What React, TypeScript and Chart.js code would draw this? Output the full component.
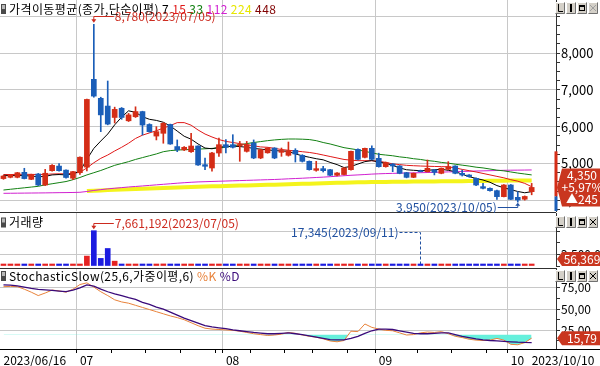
import React, { useEffect, useRef } from 'react';
import { Chart, registerables } from 'chart.js';

Chart.register(...registerables);

// ---------------- data ----------------
const DATES = [
  '2023/06/16', '2023/06/19', '2023/06/20', '2023/06/21', '2023/06/22', '2023/06/23', '2023/06/26', '2023/06/27', '2023/06/28', '2023/06/29', '2023/06/30',
  '2023/07/03', '2023/07/04', '2023/07/05', '2023/07/06', '2023/07/07', '2023/07/10', '2023/07/11', '2023/07/12', '2023/07/13', '2023/07/14',
  '2023/07/17', '2023/07/18', '2023/07/19', '2023/07/20', '2023/07/21', '2023/07/24', '2023/07/25', '2023/07/26', '2023/07/27', '2023/07/28', '2023/07/31',
  '2023/08/01', '2023/08/02', '2023/08/03', '2023/08/04', '2023/08/07', '2023/08/08', '2023/08/09', '2023/08/10', '2023/08/11', '2023/08/14',
  '2023/08/16', '2023/08/17', '2023/08/18', '2023/08/21', '2023/08/22', '2023/08/23', '2023/08/24', '2023/08/25', '2023/08/28', '2023/08/29', '2023/08/30', '2023/08/31',
  '2023/09/01', '2023/09/04', '2023/09/05', '2023/09/06', '2023/09/07', '2023/09/08', '2023/09/11', '2023/09/12', '2023/09/13', '2023/09/14', '2023/09/15',
  '2023/09/18', '2023/09/19', '2023/09/20', '2023/09/21', '2023/09/22', '2023/09/25', '2023/09/26', '2023/09/27',
  '2023/10/04', '2023/10/05', '2023/10/06', '2023/10/10',
];

const OPEN = [
  4590, 4625, 4625, 4760, 4570, 4715, 4415, 4805, 4930, 4820,
  4600, 4750, 4900, 7285, 6770, 6560, 6250, 6500, 6160, 6270,
  6410, 6060, 5745, 5820, 6060, 5460, 5370, 5320, 5475, 4968,
  4878, 5285, 5511, 5511, 5480, 5330, 5556, 5150, 5290, 5420,
  5303, 5222, 5357, 5222, 5059, 4815, 4860, 4832, 4680, 4700,
  4832, 5384, 5167, 5412, 5140, 4914, 4986, 4932, 4751, 4624,
  4805, 4778, 4824, 4733, 4842, 4932, 4733, 4688, 4597, 4371,
  4326, 4262, 4100, 4416, 4081, 4030, 4235,
];
const HIGH = [
  4680, 4700, 4760, 4870, 4710, 4730, 4840, 4970, 5000, 4830,
  4790, 5180, 6750, 8780, 6800, 7240, 6530, 6520, 6360, 6540,
  6420, 6080, 6000, 6110, 6070, 5640, 5460, 5820, 5480, 5150,
  5300, 5690, 5647, 5782, 5600, 5600, 5640, 5390, 5430, 5430,
  5420, 5583, 5402, 5240, 5070, 5059, 4923, 4845, 4750, 4890,
  5340, 5400, 5420, 5480, 5280, 5040, 5000, 4945, 4760, 4745,
  4820, 5095, 4840, 4880, 5050, 4940, 4820, 4700, 4610, 4462,
  4340, 4275, 4430, 4430, 4235, 4120, 4460,
];
const LOW = [
  4570, 4610, 4610, 4580, 4560, 4400, 4400, 4790, 4790, 4600,
  4560, 4700, 4800, 6800, 5865, 6050, 6100, 6200, 6140, 6250,
  5775, 5850, 5640, 5550, 5520, 5320, 5350, 5300, 4950, 4830,
  4790, 5195, 5285, 5420, 5060, 5310, 5130, 5130, 5280, 5130,
  5195, 5200, 5040, 5040, 4820, 4790, 4769, 4670, 4660, 4690,
  4820, 5100, 5150, 5100, 4900, 4900, 4778, 4720, 4610, 4615,
  4770, 4765, 4690, 4720, 4835, 4720, 4660, 4630, 4400, 4310,
  4250, 4027, 4090, 4020, 3950, 4005, 4150,
];
const CLOSE = [
  4660, 4690, 4750, 4590, 4700, 4415, 4735, 4950, 4805, 4620,
  4780, 5170, 6740, 6830, 6320, 6070, 6470, 6250, 6320, 6410,
  6045, 5865, 5865, 6090, 5530, 5370, 5440, 5475, 4960, 4924,
  5285, 5511, 5440, 5440, 5511, 5511, 5150, 5375, 5420, 5150,
  5348, 5348, 5258, 5059, 4832, 4860, 4805, 4680, 4742, 4878,
  5330, 5113, 5412, 5113, 4914, 5023, 4932, 4733, 4624, 4733,
  4778, 4869, 4760, 4869, 4914, 4733, 4688, 4643, 4416, 4326,
  4262, 4100, 4416, 4027, 4009, 4105, 4350,
];
const VOLUME = [
  180000, 150000, 210000, 260000, 140000, 230000, 280000, 300000, 190000, 160000,
  170000, 420000, 2150000, 7661192, 1650000, 3800000, 1050000, 380000, 340000, 330000,
  310000, 220000, 240000, 450000, 420000, 160000, 120000, 210000, 180000, 140000,
  250000, 190000, 130000, 110000, 150000, 120000, 140000, 100000, 90000, 110000,
  80000, 120000, 100000, 90000, 130000, 70000, 60000, 90000, 50000, 80000,
  260000, 150000, 120000, 110000, 100000, 70000, 60000, 80000, 70000, 50000,
  17345, 40000, 35000, 45000, 60000, 50000, 40000, 35000, 70000, 45000,
  40000, 60000, 90000, 70000, 50000, 40000, 56369,
];

const MA7 = [
  4680, 4670, 4680, 4670, 4660, 4640, 4650, 4690, 4700, 4690,
  4720, 4790, 5110, 5410, 5610, 5800, 6050, 6260, 6430, 6390,
  6270, 6200, 6170, 6120, 6020, 5880, 5740, 5660, 5530, 5420,
  5400, 5440, 5460, 5470, 5460, 5440, 5410, 5390, 5370, 5350,
  5340, 5330, 5260, 5210, 5170, 5130, 5100, 5030, 4970, 4890,
  4920, 4985, 5050, 5080, 5040, 5005, 4950, 4880, 4830, 4815,
  4805, 4815, 4830, 4842, 4815, 4780, 4710, 4642, 4595, 4552,
  4490, 4400, 4340, 4290, 4240, 4205, 4235,
];
const MA15 = [
  4700, 4700, 4705, 4705, 4705, 4700, 4705, 4715, 4720, 4720,
  4735, 4760, 4880, 5020, 5140, 5230, 5340, 5440, 5550, 5680,
  5770, 5830, 5890, 5960, 6030, 6110, 6110, 6040, 5910, 5800,
  5720, 5650, 5600, 5570, 5540, 5510, 5480, 5450, 5440, 5410,
  5380, 5360, 5340, 5320, 5300, 5270, 5230, 5190, 5150, 5110,
  5090, 5077, 5077, 5075, 5060, 5030, 4990, 4970, 4950, 4940,
  4932, 4925, 4920, 4915, 4910, 4880, 4840, 4805, 4770, 4730,
  4690, 4650, 4610, 4560, 4520, 4460, 4370,
];
const MA33 = [
  4280, 4300, 4320, 4340, 4360, 4380, 4420, 4450, 4480, 4510,
  4560, 4620, 4690, 4750, 4810, 4880, 4950, 5000, 5050, 5110,
  5160, 5210, 5260, 5320, 5350, 5365, 5375, 5380, 5390, 5400,
  5410, 5420, 5440, 5480, 5510, 5540, 5570, 5595, 5620, 5640,
  5655, 5665, 5665, 5660, 5650, 5620, 5570, 5530, 5480, 5430,
  5400, 5370, 5330, 5290, 5250, 5230, 5210, 5180, 5160, 5130,
  5110, 5080, 5060, 5030, 5010, 4980, 4955, 4930, 4900, 4880,
  4850, 4820, 4800, 4770, 4740, 4715, 4690,
];
const MA112 = [
  4190, 4192, 4194, 4196, 4198, 4200, 4202, 4205, 4208, 4210,
  4213, 4218, 4240, 4268, 4290, 4310, 4328, 4345, 4362, 4376,
  4390, 4405, 4420, 4435, 4450, 4465, 4478, 4490, 4500, 4506,
  4512, 4518, 4524, 4530, 4536, 4542, 4548, 4554, 4560, 4566,
  4574, 4584, 4592, 4600, 4610, 4620, 4630, 4642, 4655, 4668,
  4680, 4690, 4700, 4712, 4720, 4727, 4732, 4737, 4742, 4746,
  4750, 4755, 4760, 4766, 4772, 4778, 4784, 4790, 4796, 4800,
  4805, 4810, 4815, 4818, 4820, 4822, 4825,
];
const MA224 = [
  null, null, null, null, null, null, null, null, null, null, null, null,
  4255, 4263, 4270, 4278, 4285, 4292, 4299, 4306, 4313, 4320,
  4327, 4334, 4341, 4348, 4355, 4362, 4369, 4374, 4379, 4384,
  4390, 4395, 4400, 4405, 4411, 4416, 4421, 4426, 4432, 4437,
  4442, 4447, 4453, 4458, 4463, 4468, 4474, 4479, 4484, 4489,
  4494, 4496, 4498, 4500, 4502, 4504, 4506, 4508, 4510, 4511,
  4513, 4515, 4517, 4519, 4521, 4523, 4525, 4527, 4529, 4531,
  4533, 4535, 4537, 4539, 4540,
];

const STOCH_K = [
  76.5, 76.8, 76.5, 73.5, 70, 66, 69, 72.5, 71.5, 70,
  73.5, 79, 81, 76, 70.5, 66, 61, 58.5, 57, 54.5,
  52, 49.5, 47, 44.5, 42, 40, 37.5, 34, 30.5, 27.5,
  26.5, 26, 25.5, 25, 24, 22.5, 21, 20, 19, 19.5,
  20.5, 22.5, 21.5, 19.5, 18, 17, 15, 12.5, 11.5, 13,
  24, 23.5, 32.5, 28.5, 26.5, 25, 24.5, 22, 19.5, 20,
  22, 23, 22.5, 23.5, 21, 18, 16.5, 14.5, 13.5, 13,
  13.5, 15.5, 13.5, 8.5, 8, 10.5, 15.79,
];
const STOCH_D = [
  78.5, 78.2, 77.5, 76, 74.5, 73.4, 72.8, 72, 71.3, 70.6,
  72.5, 75, 78.5, 77, 73.5, 70.5, 68, 66, 63.5, 61.5,
  58, 55.5, 52.5, 50, 46.5, 43, 39.5, 36.5, 33.5, 30.5,
  29, 28, 27, 25.5, 24.5, 23.5, 22.5, 21.7, 21, 21,
  21.5, 22, 21, 20, 18.5, 17, 15.5, 14, 13.8, 13.8,
  15.5, 18, 21.5, 24.5, 26.5, 26.5, 26, 24.5, 23, 21.5,
  21, 21, 21.5, 22, 22, 20, 18, 16.5, 15, 13.8,
  13, 12.5, 12, 11.5, 11, 10.7, 10.6,
];

const PRICE_TITLE = '가격이동평균(종가,단순이평)';
const MA_PERIODS = [7, 15, 33, 112, 224, 448];
const VOLUME_TITLE = '거래량';
const STOCH_TITLE = 'StochasticSlow(25,6,가중이평,6)';
const STOCH_KEYS = ['%K', '%D'];

const UPPER_LIMIT = 5330;
const LOWER_LIMIT = 2875;
const PRICE_MIN = 3710;
const PRICE_MAX = 9440;
const PRICE_STEP = 250;
const VOLUME_MAX = 11500000;
const VOLUME_STEP = 2500000;
const STOCH_MIN = 3;
const STOCH_MAX = 98.5;
const STOCH_STEP = 12.5;
const STOCH_OVERSOLD = 20;
const RIGHT_PAD_SLOTS = 3;

// ---------------- styles ----------------
const W = 600;
const PRICE_H = 213;
const VOL_H = 55;
const STOCH_H = 98;
const AXIS_W = 44;
const FONT = '"Noto Sans CJK KR", "Noto Sans", sans-serif';
const GRID = '#c8c8c8';
const AXIS = '#333333';
const NONE = 'rgba(0,0,0,0)';
const UP = '#d42d17';
const DOWN = '#1b5eb8';
const VOL_UP = '#e52222';
const VOL_DOWN = '#1c1ce0';
const TAG_BG = '#c9361f';
const HI_COLOR = '#cc2a1e';
const LO_COLOR = '#2050a0';
const MA_COLORS = ['#000000', '#e01818', '#128012', '#d020d0', '#e6e600', '#800000'];
const MA_LINE_224 = '#f4f41c';
const K_COLOR = '#e8823a';
const D_COLOR = '#3a0a7a';
const OVERSOLD_FILL = '#66f0dc';

// ---------------- helpers ----------------
const N = DATES.length;
const LABELS = [...DATES, ...Array(RIGHT_PAD_SLOTS).fill('')];
const isUp = (i: number) => CLOSE[i] >= OPEN[i];
const monthOf = (i: number) => DATES[i].slice(5, 7);
const dayNum = (i: number) => {
  const [y, m, d] = DATES[i].split('/').map(Number);
  return Math.floor(Date.UTC(y, m - 1, d) / 86400000);
};
const weekKey = (i: number) => Math.floor((dayNum(i) + 3) / 7);
const isMonthStart = (i: number) => i > 0 && i < N && monthOf(i) !== monthOf(i - 1);
const isWeekStart = (i: number) => i > 0 && i < N && weekKey(i) !== weekKey(i - 1);
const FIRST_MONTH_START = DATES.findIndex((_, i) => isMonthStart(i));
const showXTick = (i: number) =>
  isMonthStart(i) ||
  (isWeekStart(i) && i > FIRST_MONTH_START && ![1, 2, 3].some((k) => isMonthStart(i - k)));
const xLabel = (i: number) => {
  if (i === 0 || i === N - 1) return DATES[i];
  if (isMonthStart(i)) return monthOf(i);
  return '';
};
const fmtInt = (v: number) => Math.round(v).toLocaleString('en-US');
const fmtDec = (v: number) => v.toFixed(2).replace('.', ',');
const argMax = (a: number[]) => a.reduce((b, v, i) => (v > a[b] ? i : b), 0);
const argMin = (a: number[]) => a.reduce((b, v, i) => (v < a[b] ? i : b), 0);
const isMult = (v: number, s: number) => Math.abs(v / s - Math.round(v / s)) < 1e-6;

const HIGH_IDX = argMax(HIGH);
const LOW_IDX = argMin(LOW);
const VOL_MAX_IDX = argMax(VOLUME);
const VOL_MIN_IDX = argMin(VOLUME);

function drawIcon(ctx: any, x: number, y: number) {
  ctx.fillStyle = '#4a4a4a';
  ctx.fillRect(x, y, 5, 10);
  ctx.fillStyle = '#b8b8b8';
  ctx.fillRect(x + 1, y + 1, 3, 4);
}

function drawTitle(ctx: any, x: number, yMid: number, parts: [string, string][]) {
  ctx.save();
  drawIcon(ctx, x, yMid - 5);
  x += 8;
  ctx.font = `12px ${FONT}`;
  if ('letterSpacing' in ctx) ctx.letterSpacing = '0.4px';
  ctx.textBaseline = 'middle';
  ctx.textAlign = 'left';
  for (const [t, c] of parts) {
    ctx.fillStyle = c;
    ctx.fillText(t, x, yMid);
    x += ctx.measureText(t).width;
  }
  ctx.restore();
}

function drawButtons(ctx: any, xRight: number, y: number, closeDisabled: boolean) {
  ctx.save();
  const bw = 11;
  const bh = 12;
  for (let k = 0; k < 4; k++) {
    const bx = xRight - (4 - k) * bw - 1;
    ctx.fillStyle = '#d4d0c8';
    ctx.fillRect(bx, y, bw - 1, bh);
    ctx.strokeStyle = '#ffffff';
    ctx.lineWidth = 1;
    ctx.beginPath();
    ctx.moveTo(bx + 0.5, y + bh - 0.5);
    ctx.lineTo(bx + 0.5, y + 0.5);
    ctx.lineTo(bx + bw - 1.5, y + 0.5);
    ctx.stroke();
    ctx.strokeStyle = '#707070';
    ctx.beginPath();
    ctx.moveTo(bx + bw - 1.5, y + 0.5);
    ctx.lineTo(bx + bw - 1.5, y + bh - 0.5);
    ctx.lineTo(bx + 0.5, y + bh - 0.5);
    ctx.stroke();
    const g = k === 3 && closeDisabled ? '#a0a0a0' : '#000000';
    ctx.strokeStyle = g;
    ctx.fillStyle = g;
    if (k === 0) {
      ctx.beginPath();
      ctx.moveTo(bx + 3.5, y + 2);
      ctx.lineTo(bx + 3.5, y + 9.5);
      ctx.lineTo(bx + 8, y + 9.5);
      ctx.stroke();
    } else if (k === 1) {
      ctx.fillRect(bx + 4, y + 2, 2, 8);
    } else if (k === 2) {
      ctx.strokeRect(bx + 2.5, y + 3.5, 5, 5);
      ctx.fillRect(bx + 2, y + 3, 6, 2);
    } else {
      ctx.beginPath();
      ctx.moveTo(bx + 2, y + 3);
      ctx.lineTo(bx + 8, y + 9);
      ctx.moveTo(bx + 8, y + 3);
      ctx.lineTo(bx + 2, y + 9);
      ctx.stroke();
    }
  }
  ctx.restore();
}

function drawTag(ctx: any, xTip: number, yMid: number, lines: string[], xRight: number) {
  ctx.save();
  const lh = 12;
  const h = lines.length * lh + 2;
  const y0 = yMid - h / 2;
  const x0 = xTip + 5;
  ctx.fillStyle = TAG_BG;
  ctx.beginPath();
  ctx.moveTo(xTip, yMid);
  ctx.lineTo(x0, y0);
  ctx.lineTo(xRight, y0);
  ctx.lineTo(xRight, y0 + h);
  ctx.lineTo(x0, y0 + h);
  ctx.closePath();
  ctx.fill();
  ctx.fillStyle = '#ffffff';
  ctx.font = `12px ${FONT}`;
  ctx.textAlign = 'center';
  ctx.textBaseline = 'middle';
  lines.forEach((t, k) => ctx.fillText(t, (x0 + xRight) / 2 + 1, y0 + 1 + lh * k + lh / 2 + 0.5));
  ctx.restore();
}

function xAxis(bottom: boolean) {
  return {
    type: 'category',
    offset: true,
    grid: {
      offset: true,
      drawTicks: bottom,
      tickLength: 4,
      lineWidth: 1,
      color: (c: any) => (isMonthStart(c.index) ? GRID : NONE),
      tickColor: (c: any) => (showXTick(c.index) ? '#000000' : NONE),
    },
    border: { display: false },
    ticks: {
      display: bottom,
      autoSkip: false,
      maxRotation: 0,
      minRotation: 0,
      align: 'start',
      padding: 0,
      color: '#000000',
      font: { family: FONT, size: 12 },
      callback: (_v: any, i: number) => xLabel(i),
    },
    afterFit: (s: any) => {
      s.height = bottom ? 17 : 0;
      s.paddingLeft = 0;
      s.paddingRight = 0;
    },
  };
}

function yAxis(
  min: number, max: number, step: number,
  gridIf: (v: number) => boolean, labelIf: (v: number) => boolean,
  fmt: (v: number) => string, fontSize: number,
) {
  return {
    position: 'right',
    min,
    max,
    grid: {
      color: (c: any) => (c.tick && gridIf(c.tick.value) ? GRID : NONE),
      tickColor: AXIS,
      tickLength: 4,
      drawTicks: true,
      lineWidth: 1,
    },
    border: { display: true, color: AXIS, width: 1 },
    ticks: {
      autoSkip: false,
      padding: 1,
      color: '#000000',
      font: { family: FONT, size: fontSize },
      callback: (v: number) => (labelIf(v) ? fmt(v) : ''),
    },
    afterBuildTicks: (s: any) => {
      const ticks: { value: number }[] = [];
      for (let k = Math.ceil(min / step); k * step <= max + 1e-9; k++) ticks.push({ value: k * step });
      s.ticks = ticks;
    },
    afterFit: (s: any) => {
      s.width = AXIS_W;
      s.paddingTop = 0;
      s.paddingBottom = 0;
    },
  };
}

const maLine = (data: (number | null)[], color: string, width: number, order: number) => ({
  type: 'line',
  data,
  borderColor: color,
  borderWidth: width,
  pointRadius: 0,
  fill: false,
  tension: 0,
  order,
});

const baseOptions = () => ({
  responsive: false,
  maintainAspectRatio: false,
  devicePixelRatio: 1,
  animation: false,
  events: [],
  plugins: { legend: { display: false }, tooltip: { enabled: false } },
});

// ---------------- plugins ----------------
const pricePlugin = {
  id: 'pricePanel',
  afterDraw(chart: any) {
    const ctx = chart.ctx;
    const { right, bottom } = chart.chartArea;
    const xs = chart.scales.x;
    const ys = chart.scales.y;
    ctx.save();
    const prev = CLOSE[N - 2];
    const yU = ys.getPixelForValue(UPPER_LIMIT);
    const yP = ys.getPixelForValue(prev);
    const yL = Math.min(bottom, ys.getPixelForValue(LOWER_LIMIT));
    ctx.fillStyle = UP;
    ctx.fillRect(right - 1.5, yU, 3, yP - yU);
    ctx.fillStyle = DOWN;
    ctx.fillRect(right - 1.5, yP, 3, yL - yP);
    ctx.fillStyle = '#303030';
    ctx.fillRect(0, bottom + 1, right, 1);

    ctx.font = `12px ${FONT}`;
    ctx.lineWidth = 1;
    const hx = xs.getPixelForValue(HIGH_IDX);
    const hy = ys.getPixelForValue(HIGH[HIGH_IDX]);
    const hly = Math.round(hy - 8) + 0.5;
    ctx.strokeStyle = HI_COLOR;
    ctx.fillStyle = HI_COLOR;
    ctx.beginPath();
    ctx.moveTo(hx, hly);
    ctx.lineTo(hx, hy - 4);
    ctx.moveTo(hx, hly);
    ctx.lineTo(hx + 20, hly);
    ctx.stroke();
    ctx.beginPath();
    ctx.moveTo(hx - 2.5, hy - 5);
    ctx.lineTo(hx + 2.5, hy - 5);
    ctx.lineTo(hx, hy - 1.5);
    ctx.closePath();
    ctx.fill();
    ctx.textBaseline = 'middle';
    ctx.textAlign = 'left';
    ctx.fillText(`${fmtInt(HIGH[HIGH_IDX])}(${DATES[HIGH_IDX]})`, hx + 21, hly);

    const lx = xs.getPixelForValue(LOW_IDX);
    const lyv = ys.getPixelForValue(LOW[LOW_IDX]);
    const lly = Math.round(lyv + 5) + 0.5;
    ctx.strokeStyle = LO_COLOR;
    ctx.fillStyle = LO_COLOR;
    ctx.beginPath();
    ctx.moveTo(lx - 20, lly);
    ctx.lineTo(lx, lly);
    ctx.lineTo(lx, lyv + 3);
    ctx.stroke();
    ctx.beginPath();
    ctx.moveTo(lx - 2.5, lyv + 3.5);
    ctx.lineTo(lx + 2.5, lyv + 3.5);
    ctx.lineTo(lx, lyv + 0.5);
    ctx.closePath();
    ctx.fill();
    ctx.textAlign = 'right';
    ctx.fillText(`${fmtInt(LOW[LOW_IDX])}(${DATES[LOW_IDX]})`, lx - 21, lly);
    ctx.restore();

    const parts: [string, string][] = [[PRICE_TITLE, '#000000']];
    MA_PERIODS.forEach((p, k) => parts.push([` ${p}`, MA_COLORS[k]]));
    drawTitle(ctx, 1, 9, parts);

    const last = CLOSE[N - 1];
    const chg = last - prev;
    const pct = (chg / prev) * 100;
    drawTag(ctx, right + 1, ys.getPixelForValue(last), [
      fmtInt(last),
      `${chg >= 0 ? '+' : '-'}${fmtDec(Math.abs(pct))}%`,
      `${chg >= 0 ? '▲' : '▼'}${fmtInt(Math.abs(chg))}`,
    ], chart.width);
    drawButtons(ctx, chart.width, 2, true);
  },
};

const volumePlugin = {
  id: 'volumePanel',
  afterDraw(chart: any) {
    const ctx = chart.ctx;
    const { top, right, bottom } = chart.chartArea;
    const xs = chart.scales.x;
    const ys = chart.scales.y;
    ctx.save();
    ctx.font = `12px ${FONT}`;
    ctx.lineWidth = 1;
    const vx = xs.getPixelForValue(VOL_MAX_IDX);
    const vy = ys.getPixelForValue(VOLUME[VOL_MAX_IDX]);
    const vly = Math.round(vy - 8) + 0.5;
    ctx.strokeStyle = HI_COLOR;
    ctx.fillStyle = HI_COLOR;
    ctx.beginPath();
    ctx.moveTo(vx, vly);
    ctx.lineTo(vx, vy - 4);
    ctx.moveTo(vx, vly);
    ctx.lineTo(vx + 20, vly);
    ctx.stroke();
    ctx.beginPath();
    ctx.moveTo(vx - 2.5, vy - 5);
    ctx.lineTo(vx + 2.5, vy - 5);
    ctx.lineTo(vx, vy - 1.5);
    ctx.closePath();
    ctx.fill();
    ctx.textBaseline = 'middle';
    ctx.textAlign = 'left';
    ctx.fillText(`${fmtInt(VOLUME[VOL_MAX_IDX])}(${DATES[VOL_MAX_IDX]})`, vx + 21, vly);

    const mx = Math.round(xs.getPixelForValue(VOL_MIN_IDX)) + 0.5;
    const rowY = Math.round(top + 19) + 0.5;
    ctx.strokeStyle = LO_COLOR;
    ctx.fillStyle = LO_COLOR;
    ctx.setLineDash([3, 2]);
    ctx.beginPath();
    ctx.moveTo(mx - 21, rowY);
    ctx.lineTo(mx, rowY);
    ctx.lineTo(mx, bottom - 2);
    ctx.stroke();
    ctx.setLineDash([]);
    ctx.textAlign = 'right';
    ctx.fillText(`${fmtInt(VOLUME[VOL_MIN_IDX])}(${DATES[VOL_MIN_IDX]})`, mx - 22, rowY);
    ctx.restore();

    drawTitle(ctx, 1, 9.5, [[VOLUME_TITLE, '#000000']]);
    const lastV = VOLUME[N - 1];
    const ty = Math.max(top + 7, Math.min(bottom - 7, ys.getPixelForValue(lastV)));
    drawTag(ctx, right + 1, ty, [fmtInt(lastV)], chart.width);
    drawButtons(ctx, chart.width, 3, false);
  },
};

const stochPlugin = {
  id: 'stochPanel',
  afterDraw(chart: any) {
    const ctx = chart.ctx;
    const { top, right, bottom } = chart.chartArea;
    const ys = chart.scales.y;
    ctx.save();
    ctx.fillStyle = '#303030';
    ctx.fillRect(0, top, right, 1);
    ctx.fillStyle = '#000000';
    ctx.fillRect(0, bottom, chart.width, 1);
    ctx.restore();
    drawTitle(ctx, 1, 8, [
      [STOCH_TITLE, '#000000'],
      [` ${STOCH_KEYS[0]}`, K_COLOR],
      [` ${STOCH_KEYS[1]}`, D_COLOR],
    ]);
    const lastK = STOCH_K[N - 1];
    const ty = Math.max(top + 7, Math.min(bottom - 7, ys.getPixelForValue(lastK)));
    drawTag(ctx, right + 1, ty, [fmtDec(lastK)], chart.width);
    drawButtons(ctx, chart.width, 2, false);
  },
};

// ---------------- configs ----------------
const CANDLE_COLORS = OPEN.map((_, i) => (isUp(i) ? UP : DOWN));
const VOLUME_COLORS = VOLUME.map((_, i) => (isUp(i) ? VOL_UP : VOL_DOWN));

function priceConfig(): any {
  return {
    type: 'bar',
    data: {
      labels: LABELS,
      datasets: [
        { type: 'bar', data: OPEN.map((o, i) => [o, CLOSE[i]]), backgroundColor: CANDLE_COLORS, barThickness: 5, minBarLength: 1, grouped: false, borderWidth: 0, order: 0 },
        { type: 'bar', data: LOW.map((l, i) => [l, HIGH[i]]), backgroundColor: CANDLE_COLORS, barThickness: 1, grouped: false, borderWidth: 0, order: 1 },
        maLine(MA7, MA_COLORS[0], 1, 2),
        maLine(MA15, MA_COLORS[1], 1, 3),
        maLine(MA33, MA_COLORS[2], 1, 4),
        maLine(MA112, MA_COLORS[3], 1, 5),
        maLine(MA224, MA_LINE_224, 4, 9),
      ],
    },
    options: {
      ...baseOptions(),
      layout: { padding: { top: 0, left: 0, right: 0, bottom: 2 } },
      scales: {
        x: xAxis(false),
        y: yAxis(
          PRICE_MIN, PRICE_MAX, PRICE_STEP,
          (v) => isMult(v, 1000),
          (v) => isMult(v, 1000) && v < PRICE_MAX - 500,
          fmtInt, 13,
        ),
      },
    },
    plugins: [pricePlugin],
  };
}

function volumeConfig(): any {
  return {
    type: 'bar',
    data: {
      labels: LABELS,
      datasets: [
        { type: 'bar', data: VOLUME, backgroundColor: VOLUME_COLORS, barThickness: 5, minBarLength: 2, borderWidth: 0 },
      ],
    },
    options: {
      ...baseOptions(),
      layout: { padding: { top: 0, left: 0, right: 0, bottom: 2 } },
      scales: {
        x: xAxis(false),
        y: yAxis(
          0, VOLUME_MAX, VOLUME_STEP,
          (v) => isMult(v, VOLUME_STEP) && Math.round(v / VOLUME_STEP) % 2 === 1,
          (v) => Math.round(v / VOLUME_STEP) === 1,
          fmtInt, 12,
        ),
      },
    },
    plugins: [volumePlugin],
  };
}

function stochConfig(): any {
  return {
    type: 'line',
    data: {
      labels: LABELS,
      datasets: [
        {
          type: 'line',
          data: STOCH_K,
          borderColor: K_COLOR,
          borderWidth: 1,
          pointRadius: 0,
          tension: 0,
          fill: { value: STOCH_OVERSOLD, above: NONE, below: OVERSOLD_FILL },
          order: 1,
        },
        {
          type: 'line',
          data: STOCH_D,
          borderColor: D_COLOR,
          borderWidth: 1.3,
          pointRadius: 0,
          tension: 0,
          fill: false,
          order: 0,
        },
      ],
    },
    options: {
      ...baseOptions(),
      layout: { padding: 0 },
      scales: {
        x: xAxis(true),
        y: yAxis(
          STOCH_MIN, STOCH_MAX, STOCH_STEP,
          (v) => isMult(v, 25),
          (v) => isMult(v, 25),
          fmtDec, 12,
        ),
      },
    },
    plugins: [stochPlugin],
  };
}

export default function App() {
  const priceRef = useRef<HTMLCanvasElement>(null);
  const volRef = useRef<HTMLCanvasElement>(null);
  const stochRef = useRef<HTMLCanvasElement>(null);

  useEffect(() => {
    document.body.style.margin = '0';
    document.body.style.background = '#ffffff';
    const charts = [
      new Chart(priceRef.current as any, priceConfig()),
      new Chart(volRef.current as any, volumeConfig()),
      new Chart(stochRef.current as any, stochConfig()),
    ];
    return () => charts.forEach((c) => c.destroy());
  }, []);

  return (
    <div style={{ width: W, background: '#ffffff' }}>
      <canvas ref={priceRef} width={W} height={PRICE_H} style={{ display: 'block' }} />
      <canvas ref={volRef} width={W} height={VOL_H} style={{ display: 'block' }} />
      <canvas ref={stochRef} width={W} height={STOCH_H} style={{ display: 'block' }} />
    </div>
  );
}
